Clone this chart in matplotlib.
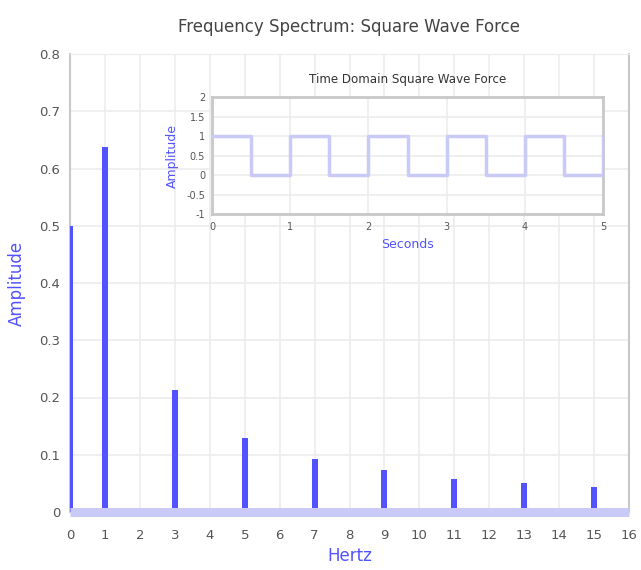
import matplotlib
matplotlib.use("Agg")
import matplotlib.pyplot as plt
from matplotlib.ticker import FuncFormatter

# ---- data ----
freqs = [0, 1, 3, 5, 7, 9, 11, 13, 15]
amps = [0.50, 0.637, 0.213, 0.129, 0.092, 0.073, 0.058, 0.050, 0.044]
freq_ticks = list(range(0, 17))
amp_ticks = [0, 0.1, 0.2, 0.3, 0.4, 0.5, 0.6, 0.7, 0.8]

t_points = [0, 0.5, 1.0, 1.5, 2.0, 2.5, 3.0, 3.5, 4.0, 4.5, 5.0]
force_levels = [1, 0, 1, 0, 1, 0, 1, 0, 1, 0, 1]
time_ticks = [0, 1, 2, 3, 4, 5]
force_ticks = [-1, -0.5, 0, 0.5, 1, 1.5, 2]

BLUE = "#5252ff"
LIGHT = "#cacaf8"
GRID = "#ececec"
SPINE = "#c8c8c8"
fmt = FuncFormatter(lambda v, p: f"{v:g}")

fig = plt.figure(figsize=(6.41, 5.70), dpi=100)
ax = fig.add_axes([70 / 641, 1 - 512 / 570, 559 / 641, 458 / 570])

ax.set_xlim(0, 16)
ax.set_ylim(0, 0.8)
ax.set_xticks(freq_ticks)
ax.set_yticks(amp_ticks)
ax.yaxis.set_major_formatter(fmt)
ax.grid(True, color=GRID, lw=1.2)
ax.set_axisbelow(True)
ax.bar(freqs, amps, width=0.17, color=BLUE, zorder=3)
ax.axhline(0, color=LIGHT, lw=6.5, zorder=4, clip_on=False, solid_capstyle="butt")
for s in ["left", "right"]:
    ax.spines[s].set_color(SPINE)
    ax.spines[s].set_linewidth(1.5)
ax.spines["top"].set_color(GRID)
ax.spines["bottom"].set_visible(False)
ax.tick_params(length=0, labelsize=9.5, labelcolor="#555555")
ax.tick_params(axis="x", pad=12)
ax.tick_params(axis="y", pad=7)
ax.set_title("Frequency Spectrum: Square Wave Force", fontsize=12, color="#444444", pad=16)
ax.set_xlabel("Hertz", fontsize=12, color=BLUE, labelpad=4)
ax.set_ylabel("Amplitude", fontsize=12, color=BLUE, labelpad=10)

# ---- inset ----
ins = fig.add_axes([212 / 641, 1 - 214 / 570, 391 / 641, 117 / 570])
ins.set_facecolor("white")
ins.step(t_points, force_levels, where="post", color=LIGHT, lw=2.5, zorder=3)
ins.set_xlim(0, 5)
ins.set_ylim(-1, 2)
ins.set_xticks(time_ticks)
ins.set_yticks(force_ticks)
ins.xaxis.set_major_formatter(fmt)
ins.yaxis.set_major_formatter(fmt)
ins.grid(True, color=GRID, lw=1.2)
ins.set_axisbelow(True)
for s in ins.spines.values():
    s.set_color(SPINE)
    s.set_linewidth(2)
ins.tick_params(length=0, labelsize=7, labelcolor="#555555")
ins.tick_params(axis="x", pad=6)
ins.tick_params(axis="y", pad=5)
ins.set_title("Time Domain Square Wave Force", fontsize=8.6, color="#333333", pad=10)
ins.set_xlabel("Seconds", fontsize=9, color=BLUE, labelpad=4)
ins.set_ylabel("Amplitude", fontsize=9, color=BLUE, labelpad=5)

fig.savefig("out.png", dpi=100)
